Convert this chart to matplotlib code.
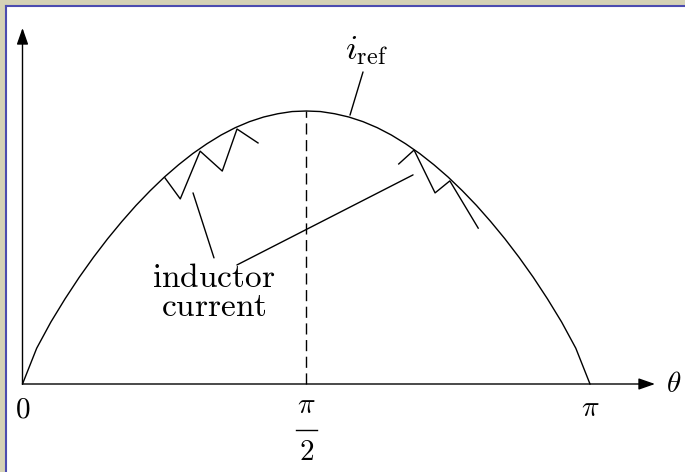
import numpy as np
import matplotlib
matplotlib.use('Agg')
import matplotlib.pyplot as plt
from matplotlib.patches import Rectangle
from matplotlib.lines import Line2D

plt.rcParams['mathtext.fontset'] = 'cm'

# reference current, theta given as fraction of pi
theta_frac = [0.0, 0.025, 0.05, 0.075, 0.1, 0.125, 0.15, 0.175, 0.2, 0.225,
              0.25, 0.275, 0.3, 0.325, 0.35, 0.375, 0.4, 0.425, 0.45, 0.475,
              0.5, 0.525, 0.55, 0.575, 0.6, 0.625, 0.65, 0.675, 0.7, 0.725,
              0.75, 0.775, 0.8, 0.825, 0.85, 0.875, 0.9, 0.925, 0.95, 0.975, 1.0]
i_ref = [0.0, 0.131, 0.227, 0.312, 0.391, 0.464, 0.532, 0.595, 0.654, 0.708,
         0.758, 0.803, 0.844, 0.880, 0.912, 0.939, 0.961, 0.978, 0.990, 0.998,
         1.0, 0.998, 0.990, 0.978, 0.961, 0.939, 0.912, 0.880, 0.844, 0.803,
         0.758, 0.708, 0.654, 0.595, 0.532, 0.464, 0.391, 0.312, 0.227, 0.131, 0.0]

# inductor current ripple, rising side and falling side
left_frac = [0.251, 0.278, 0.313, 0.352, 0.378, 0.415]
left_i = [0.755, 0.678, 0.853, 0.780, 0.934, 0.883]
right_frac = [0.663, 0.690, 0.727, 0.753, 0.803]
right_i = [0.806, 0.857, 0.700, 0.744, 0.571]

W, H = 685, 472
fig = plt.figure(figsize=(W / 100, H / 100), dpi=100)
fig.patch.set_facecolor('#d5d2b6')

# white panel with blue edge on top / left
fig.patches.append(Rectangle((6 / W, 0), 1, 1 - 6 / H, transform=fig.transFigure,
                             facecolor='white', edgecolor='none', zorder=-2))
fig.lines.append(Line2D([6 / W, 6 / W], [0, 1 - 6 / H], transform=fig.transFigure,
                        color='#4c4cb0', lw=1.5, zorder=-1))
fig.lines.append(Line2D([6 / W, 1], [1 - 6 / H, 1 - 6 / H], transform=fig.transFigure,
                        color='#4c4cb0', lw=1.5, zorder=-1))

ax = fig.add_axes([0, 0, 1, 1])
ax.set_zorder(1)
ax.set_facecolor('none')
ax.axis('off')

# origin at (22.5, 384) px, pi -> 567.5 px, unit current -> 273 px
sx = 567.5 / np.pi
sy = 273.0
ax.set_xlim(-22.5 / sx, (W - 22.5) / sx)
ax.set_ylim(-(H - 384) / sy, 384 / sy)

th = np.pi * np.array(theta_frac)
ax.plot(th, i_ref, color='black', lw=1.0)
ax.plot(np.pi * np.array(left_frac), left_i, color='black', lw=1.0)
ax.plot(np.pi * np.array(right_frac), right_i, color='black', lw=1.0)

# dashed line at pi/2
ax.plot([np.pi / 2, np.pi / 2], [0, 1.0], color='black', lw=1.0, dashes=(8, 4))

# axes with arrows
arr = dict(arrowstyle='-|>,head_length=1.0,head_width=0.35', mutation_scale=10,
           color='black', lw=1.0, shrinkA=0, shrinkB=0)
ax.annotate('', xy=(632.5 / sx, 0), xytext=(0, 0), arrowprops=arr)
ax.annotate('', xy=(0, 356 / sy), xytext=(0, 0), arrowprops=arr)

# leader lines
lead = dict(arrowstyle='-', color='black', lw=1.0, shrinkA=0, shrinkB=0)
ax.annotate('', xy=(1.813, 0.985), xytext=(1.885, 1.143), arrowprops=lead)
ax.annotate('', xy=(0.944, 0.700), xytext=(1.060, 0.462), arrowprops=lead)
ax.annotate('', xy=(2.162, 0.766), xytext=(1.187, 0.436), arrowprops=lead)

fs = 21
ax.text(1.907, 1.223, r'$i_{\rm ref}$', fontsize=25, ha='center', va='center')
ax.text(1.060, 0.336, r'$\mathrm{inductor}$' + '\n' + r'$\mathrm{current}$',
        fontsize=24, ha='center', va='center', multialignment='center', linespacing=0.85)
ax.text(0.0, -0.095, r'$0$', fontsize=fs, ha='center', va='center')
ax.text(np.pi, -0.088, r'$\pi$', fontsize=fs, ha='center', va='center')
# pi/2 tick label stacked as a fraction
ax.text(np.pi / 2, -0.077, r'$\pi$', fontsize=fs, ha='center', va='center')
ax.plot([np.pi / 2 - 0.058, np.pi / 2 + 0.058], [-0.168, -0.168], color='black', lw=1.0)
ax.text(np.pi / 2, -0.249, r'$2$', fontsize=fs, ha='center', va='center')
ax.text(3.607, 0.0, r'$\theta$', fontsize=fs, ha='center', va='center')

fig.savefig('out.png', dpi=100, facecolor=fig.get_facecolor())
